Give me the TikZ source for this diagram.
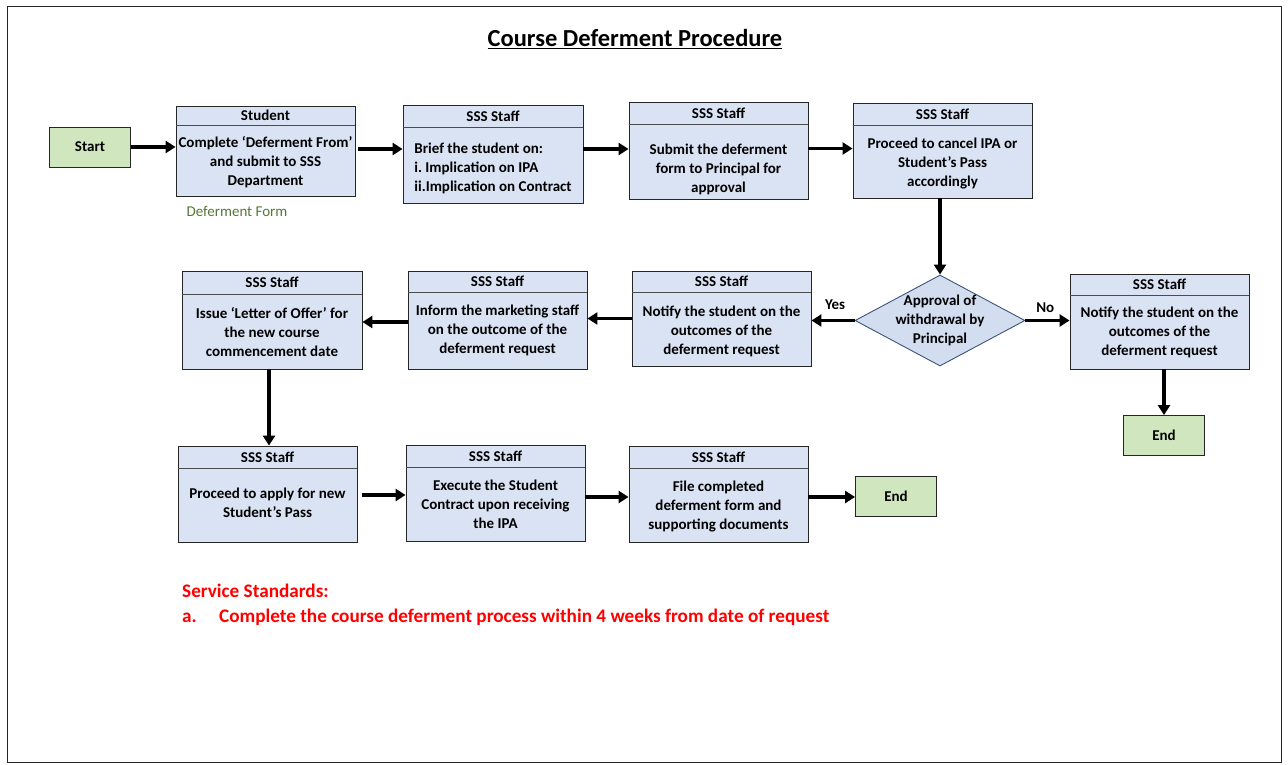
\documentclass[tikz,border=0pt]{standalone}
\usepackage{fontspec}
\setmainfont{Carlito}
\frenchspacing
\usetikzlibrary{arrows.meta,shapes.geometric,calc}
\definecolor{boxblue}{RGB}{218,227,243}
\definecolor{diafill}{RGB}{210,221,240}
\definecolor{diaedge}{RGB}{62,84,120}
\definecolor{startgreen}{RGB}{207,230,190}
\definecolor{formgreen}{RGB}{84,120,53}
\definecolor{stdred}{RGB}{255,0,0}
\tikzset{
  x=1pt, y=-1pt,
  procbox/.style={draw=black!85, line width=0.9pt, fill=boxblue, inner sep=0pt},
  termbox/.style={draw=black!85, line width=0.9pt, fill=startgreen, minimum width=81pt, minimum height=40pt, inner sep=0pt, font=\bfseries\fontsize{15}{18}\selectfont},
  hdr/.style={font=\bfseries\fontsize{15}{18}\selectfont, inner sep=0pt},
  body/.style={font=\bfseries\fontsize{15}{19}\selectfont, inner sep=0pt, align=center},
  sepline/.style={draw=black!70, line width=0.7pt},
  arr/.style={line width=3.4pt, -{Triangle[length=10pt,width=12pt]}},
  lbl/.style={font=\bfseries\fontsize{15}{18}\selectfont, inner sep=0pt},
  redtxt/.style={anchor=base west, inner sep=0pt, text=stdred, font=\bfseries\fontsize{19.2}{22}\selectfont}
}
\def\bodyoff{0}
% name, cx, cy, w, h, header height, header, body, body alignment
\newcommand{\flowbox}[9]{%
  \node[procbox, minimum width=#4pt, minimum height=#5pt] (#1) at (#2,#3) {};
  \draw[sepline] ([yshift=-#6pt]#1.north west) -- ([yshift=-#6pt]#1.north east);
  \node[hdr] (#1-h) at ([yshift={-0.5*#6pt}]#1.north) {#7};
  \node[body, align=#9] (#1-b) at ([yshift={(-0.5*(#5+#6)-\bodyoff)*1pt}]#1.north) {#8};
}
\begin{document}
\begin{tikzpicture}
\useasboundingbox (0,0) rectangle (1288,765);
\draw[line width=1pt, black!85] (7,7) rectangle (1281,762);

\node[font=\bfseries\fontsize{24.5}{29}\selectfont, inner sep=0pt] (title) at (635,39) {\underline{Course Deferment Procedure}};

% row 1
\node[termbox] (start) at (90,147) {Start};
\def\bodyoff{2}
\flowbox{student}{265.5}{151}{179}{90}{20}{Student}{Complete ‘Deferment From’\\and submit to SSS\\Department}{center}
\def\bodyoff{0}
\node[inner sep=0pt, font=\fontsize{15}{18}\selectfont, text=formgreen] (form) at (237,211) {Deferment Form};
\def\bodyoff{3}
\flowbox{brief}{493}{154}{180}{98}{23}{SSS Staff}{Brief the student on:\\i. Implication on IPA\\ii.Implication on Contract}{left}
\def\bodyoff{8}
\flowbox{submit}{718.5}{150.5}{179}{97}{23}{SSS Staff}{Submit the deferment\\form to Principal for\\approval}{center}
\def\bodyoff{2}
\flowbox{cancel}{942.5}{150.5}{179}{95}{23}{SSS Staff}{Proceed to cancel IPA or\\Student’s Pass\\accordingly}{center}

% row 2
\def\bodyoff{0}
\node[diamond, draw=diaedge, line width=0.9pt, fill=diafill, minimum width=170pt, minimum height=91pt, inner sep=0pt] (decision) at (940,320.5) {};
\node[body] (decision-t) at (940,320.5) {Approval of\\withdrawal by\\Principal};
\def\bodyoff{2}
\flowbox{ny}{721.5}{318.5}{179}{95}{22}{SSS Staff}{Notify the student on the\\outcomes of the\\deferment request}{center}
\def\bodyoff{0}
\flowbox{inform}{497.5}{320}{179}{98}{22}{SSS Staff}{Inform the marketing staff\\on the outcome of the\\deferment request}{center}
\flowbox{issue}{272}{320}{180}{98}{24}{SSS Staff}{Issue ‘Letter of Offer’ for\\the new course\\commencement date}{center}
\flowbox{nn}{1159.5}{321.5}{179}{95}{22}{SSS Staff}{Notify the student on the\\outcomes of the\\deferment request}{center}
\node[termbox] (endA) at (1164,435.5) {End};

% row 3
\def\bodyoff{-2}
\flowbox{apply}{267.5}{494}{179}{96}{23}{SSS Staff}{Proceed to apply for new\\Student’s Pass}{center}
\def\bodyoff{0}
\flowbox{execute}{495.5}{493}{179}{96}{23}{SSS Staff}{Execute the Student\\Contract upon receiving\\the IPA}{center}
\def\bodyoff{1}
\flowbox{file}{718.5}{494}{179}{96}{23}{SSS Staff}{File completed\\deferment form and\\supporting documents}{center}
\def\bodyoff{0}
\node[termbox] (endB) at (896,496) {End};

% connectors
\draw[arr] (start.east) -- (start.east -| student.west);
\draw[arr, shorten <=3pt] ([yshift=2pt]student.east) -- ([yshift=2pt]student.east -| brief.west);
\draw[arr] ([yshift=5pt]brief.east) -- ([yshift=5pt]brief.east -| submit.west);
\draw[arr] ([yshift=2pt]submit.east) -- ([yshift=2pt]submit.east -| cancel.west);
\draw[arr] (decision.north |- cancel.south) -- (decision.north);
\draw[arr] (decision.west) -- (decision.west -| ny.east) node[lbl, pos=0.45, above=9pt] (yes) {Yes};
\draw[arr] (decision.east) -- (decision.east -| nn.west) node[lbl, pos=0.45, above=6pt] (no) {No};
\draw[arr] (ny.west) -- (ny.west -| inform.east);
\draw[arr] ([yshift=-2pt]inform.west) -- ([yshift=-2pt]inform.west -| issue.east);
\draw[arr] ([xshift=1.5pt]apply.north |- issue.south) -- ([xshift=1.5pt]apply.north);
\draw[arr] (endA.north |- nn.south) -- (endA.north);
\draw[arr, shorten <=5pt] ([yshift=-1pt]apply.east) -- ([yshift=-1pt]apply.east -| execute.west);
\draw[arr] ([yshift=-4pt]execute.east) -- ([yshift=-4pt]execute.east -| file.west);
\draw[arr] ([yshift=-3pt]file.east) -- ([yshift=-3pt]file.east -| endB.west);

% service standards
\node[redtxt] (ss) at (182,597) {Service Standards:};
\node[redtxt] (ssa) at (182,622) {a.};
\node[redtxt] (ssb) at (219,622) {Complete the course deferment process within 4 weeks from date of request};
\end{tikzpicture}
\end{document}
